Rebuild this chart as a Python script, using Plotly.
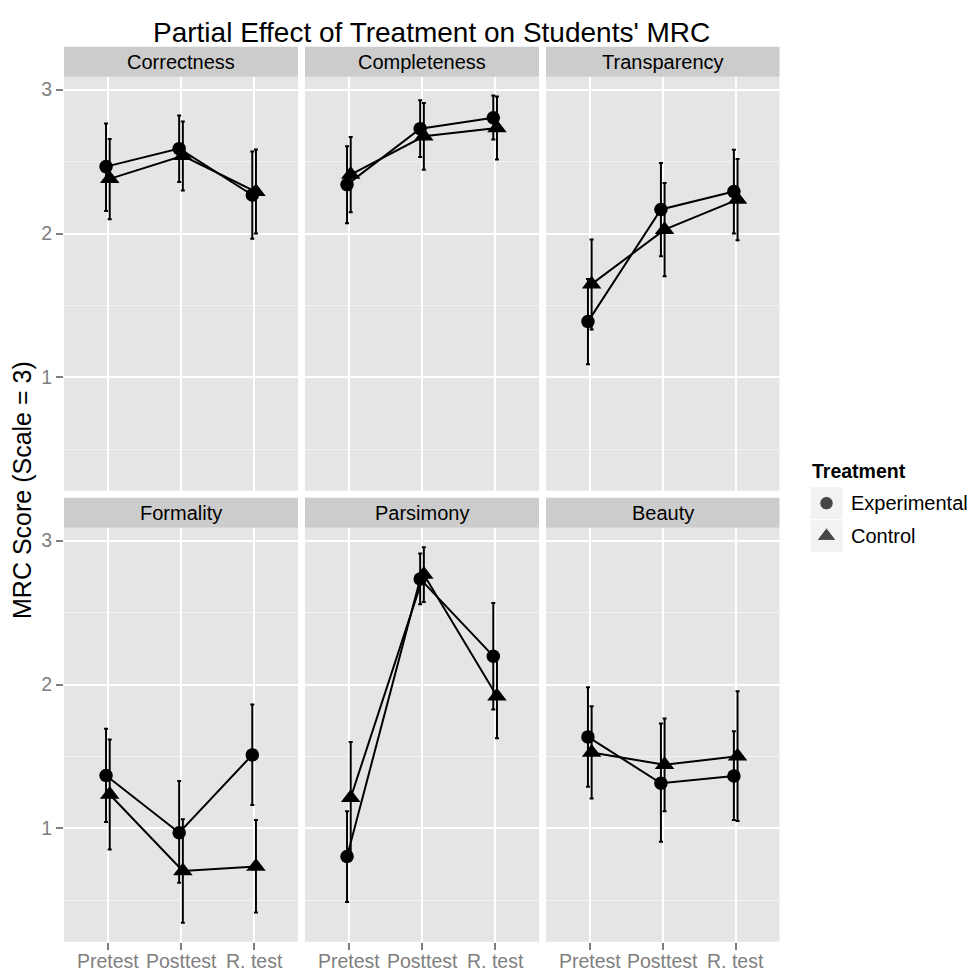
import plotly.graph_objects as go
from plotly.subplots import make_subplots

# ---------------- data ----------------
categories = ["Pretest", "Posttest", "R. test"]
facets = ["Correctness", "Completeness", "Transparency", "Formality", "Parsimony", "Beauty"]
groups = ["Experimental", "Control"]

exp_mean = {
    "Correctness":  [2.465, 2.590, 2.268],
    "Completeness": [2.340, 2.729, 2.805],
    "Transparency": [1.388, 2.167, 2.292],
    "Formality":    [1.368, 0.970, 1.511],
    "Parsimony":    [0.804, 2.734, 2.197],
    "Beauty":       [1.636, 1.314, 1.364],
}
exp_lower = {
    "Correctness":  [2.157, 2.358, 1.963],
    "Completeness": [2.071, 2.532, 2.653],
    "Transparency": [1.092, 1.842, 2.000],
    "Formality":    [1.044, 0.623, 1.162],
    "Parsimony":    [0.488, 2.558, 1.826],
    "Beauty":       [1.289, 0.908, 1.058],
}
exp_upper = {
    "Correctness":  [2.764, 2.821, 2.570],
    "Completeness": [2.606, 2.926, 2.960],
    "Transparency": [1.684, 2.490, 2.583],
    "Formality":    [1.692, 1.329, 1.861],
    "Parsimony":    [1.120, 2.910, 2.567],
    "Beauty":       [1.981, 1.729, 1.676],
}
ctrl_mean = {
    "Correctness":  [2.380, 2.540, 2.290],
    "Completeness": [2.410, 2.676, 2.734],
    "Transparency": [1.648, 2.027, 2.236],
    "Formality":    [1.236, 0.704, 0.736],
    "Parsimony":    [1.213, 2.764, 1.919],
    "Beauty":       [1.528, 1.442, 1.502],
}
ctrl_lower = {
    "Correctness":  [2.099, 2.299, 2.000],
    "Completeness": [2.148, 2.444, 2.514],
    "Transparency": [1.333, 1.703, 1.953],
    "Formality":    [0.854, 0.345, 0.415],
    "Parsimony":    [0.826, 2.574, 1.627],
    "Beauty":       [1.208, 1.120, 1.051],
}
ctrl_upper = {
    "Correctness":  [2.657, 2.779, 2.584],
    "Completeness": [2.671, 2.907, 2.953],
    "Transparency": [1.958, 2.351, 2.518],
    "Formality":    [1.618, 1.063, 1.058],
    "Parsimony":    [1.600, 2.954, 2.211],
    "Beauty":       [1.849, 1.764, 1.953],
}
y_ticks = [1, 2, 3]

# ---------------- layout helpers ----------------
W, H = 970, 973
def px(xp):
    return xp / W
def py(yp):
    return 1 - yp / H

FONT = "Liberation Sans, Arial, Helvetica, sans-serif"
col_px = [(64, 298), (305, 539), (546, 779.5)]
row_px = [(76.7, 490.7), (527.7, 941.7)]
strip_px = [(46.7, 76.7), (497.7, 527.7)]
dodge = {"Experimental": -0.025, "Control": 0.025}
symbols = {"Experimental": "circle", "Control": "triangle-up"}
msize = {"Experimental": 13.5, "Control": 17}
series = {
    "Experimental": (exp_mean, exp_lower, exp_upper),
    "Control": (ctrl_mean, ctrl_lower, ctrl_upper),
}

fig = make_subplots(rows=2, cols=3)

x_pos = [1, 2, 3]
for i, facet in enumerate(facets):
    r, c = i // 3 + 1, i % 3 + 1
    for g in groups:
        m, lo, up = series[g]
        ys = m[facet]
        fig.add_trace(go.Scatter(
            x=[x + dodge[g] for x in x_pos], y=ys,
            mode="lines+markers",
            line=dict(color="black", width=2),
            marker=dict(symbol=symbols[g], size=msize[g], color="black"),
            error_y=dict(type="data", symmetric=False,
                         array=[u - v for u, v in zip(up[facet], ys)],
                         arrayminus=[v - l for v, l in zip(ys, lo[facet])],
                         color="black", thickness=2, width=2),
            showlegend=False, hoverinfo="skip",
        ), row=r, col=c)

shapes = []
annotations = []

for i in range(6):
    r, c = i // 3, i % 3
    xa = "xaxis" if i == 0 else f"xaxis{i+1}"
    ya = "yaxis" if i == 0 else f"yaxis{i+1}"
    xref = "x" if i == 0 else f"x{i+1}"
    x0, x1 = col_px[c]
    y0, y1 = row_px[r]
    # panel background (below gridlines)
    shapes.append(dict(type="rect", xref="paper", yref="paper",
                       x0=px(x0), x1=px(x1), y0=py(y1), y1=py(y0),
                       fillcolor="#E5E5E5", line=dict(width=0), layer="below"))
    fig.layout[xa].update(
        domain=[px(x0), px(x1)], range=[0.4, 3.6], tickmode="array",
        tickvals=x_pos, ticktext=categories,
        showticklabels=False, ticks="outside" if r == 1 else "",
        ticklen=7, tickwidth=1.5, tickcolor="#7F7F7F",
        showgrid=True, gridcolor="white", gridwidth=2, zeroline=False,
        showline=False, automargin=False,
    )
    fig.layout[ya].update(
        domain=[py(y1), py(y0)], range=[0.2125, 3.09], tickmode="array",
        tickvals=y_ticks, ticktext=[str(t) for t in y_ticks],
        showticklabels=(c == 0), ticks="outside" if c == 0 else "",
        ticklen=7, tickwidth=1.5, tickcolor="#7F7F7F",
        tickfont=dict(family=FONT, size=19.5, color="#7F7F7F"),
        showgrid=True, gridcolor="white", gridwidth=2, zeroline=False,
        minor=dict(tickvals=[0.5, 1.5, 2.5], showgrid=True, gridcolor="#F2F2F2", gridwidth=1),
        showline=False, automargin=False,
    )
    # x tick labels on the bottom row, placed through the axis scale
    if r == 1:
        for xv, lab in zip(x_pos, categories):
            annotations.append(dict(text=lab, xref=xref, yref="paper",
                                    x=xv, y=py(960.5), xanchor="center", yanchor="middle",
                                    showarrow=False,
                                    font=dict(family=FONT, size=19.5, color="#7F7F7F")))

for i, facet in enumerate(facets):
    r, c = i // 3, i % 3
    x0, x1 = col_px[c]
    s0, s1 = strip_px[r]
    shapes.append(dict(type="rect", xref="paper", yref="paper",
                       x0=px(x0), x1=px(x1), y0=py(s1), y1=py(s0),
                       fillcolor="#CCCCCC", line=dict(width=0), layer="below"))
    annotations.append(dict(text=facet, xref="paper", yref="paper",
                            x=px((x0 + x1) / 2), y=py((s0 + s1) / 2),
                            xanchor="center", yanchor="middle", showarrow=False,
                            font=dict(family=FONT, size=20, color="black")))

# title
annotations.append(dict(text="Partial Effect of Treatment on Students' MRC",
                        xref="paper", yref="paper", x=px(431), y=py(33),
                        xanchor="center", yanchor="middle", showarrow=False,
                        font=dict(family=FONT, size=28, color="black")))
# y axis title
annotations.append(dict(text="MRC Score (Scale = 3)", xref="paper", yref="paper",
                        x=px(22), y=py(490), xanchor="center", yanchor="middle",
                        textangle=-90, showarrow=False,
                        font=dict(family=FONT, size=25, color="black")))

# legend (manual, ggplot style)
annotations.append(dict(text="<b>Treatment</b>", xref="paper", yref="paper",
                        x=px(810), y=py(470.7), xanchor="left", yanchor="middle",
                        showarrow=False, font=dict(family=FONT, size=19.5, color="black")))
key_centers = [503.2, 536.2]
for g, kc in zip(groups, key_centers):
    shapes.append(dict(type="rect", xref="paper", yref="paper",
                       x0=px(810), x1=px(843), y0=py(kc + 16.5), y1=py(kc - 16.5),
                       fillcolor="#F2F2F2", line=dict(color="white", width=1), layer="below"))
    annotations.append(dict(text=g, xref="paper", yref="paper",
                            x=px(849), y=py(kc), xanchor="left", yanchor="middle",
                            showarrow=False, font=dict(family=FONT, size=20, color="black")))

# legend symbols on a hidden pixel-space axis
fig.add_trace(go.Scatter(
    x=[826.5, 826.5], y=key_centers, mode="markers",
    marker=dict(symbol=[symbols[g] for g in groups], size=[msize[g] for g in groups], color="black"),
    xaxis="x7", yaxis="y7", showlegend=False, hoverinfo="skip"))
fig.update_layout(
    xaxis7=dict(domain=[px(800), px(860)], range=[800, 860], visible=False, fixedrange=True),
    yaxis7=dict(domain=[py(560), py(480)], range=[560, 480], visible=False, fixedrange=True),
)

fig.update_layout(
    width=W, height=H, margin=dict(l=0, r=0, t=0, b=0),
    paper_bgcolor="white", plot_bgcolor="rgba(0,0,0,0)",
    shapes=shapes, annotations=annotations, showlegend=False,
    font=dict(family=FONT),
)
fig.write_html("out.html")
